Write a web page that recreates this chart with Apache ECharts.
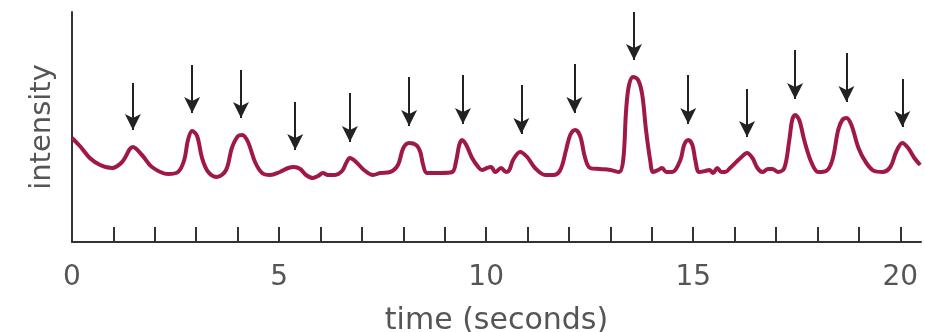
<!DOCTYPE html>
<html>
<head>
<meta charset="utf-8">
<script src="https://cdn.jsdelivr.net/npm/echarts@6/dist/echarts.min.js"></script>
<style>
  html, body { margin: 0; padding: 0; background: #fff; }
  #chart { width: 925px; height: 332px; }
</style>
</head>
<body>
<div id="chart"></div>
<script>
// time in seconds
var time = [
  0, 0.19, 0.43, 0.68, 0.97, 1.21, 1.47, 1.69, 1.93, 2.32,
  2.56, 2.71, 2.80, 2.90, 3.02, 3.14, 3.29, 3.50, 3.72, 3.86,
  4.01, 4.11, 4.25, 4.42, 4.59, 4.78, 5.02, 5.22, 5.36, 5.51,
  5.65, 5.82, 5.94, 6.06, 6.18, 6.35, 6.52, 6.62, 6.71, 6.86,
  7.05, 7.27, 7.44, 7.68, 7.87, 8.00, 8.14, 8.31, 8.41, 8.48,
  8.57, 8.89, 9.18, 9.28, 9.35, 9.42, 9.52, 9.66, 9.81, 9.90,
  10.02, 10.12, 10.22, 10.36, 10.48, 10.56, 10.65, 10.82, 10.99, 11.18,
  11.43, 11.62, 11.79, 11.93, 12.03, 12.15, 12.27, 12.39, 12.51, 12.75,
  13.00, 13.21, 13.31, 13.38, 13.45, 13.55, 13.67, 13.77, 13.86, 13.96,
  14.03, 14.15, 14.25, 14.35, 14.49, 14.69, 14.78, 14.88, 14.98, 15.05,
  15.14, 15.29, 15.39, 15.48, 15.58, 15.68, 15.77, 15.89, 16.14, 16.30,
  16.43, 16.55, 16.67, 16.81, 16.91, 17.05, 17.20, 17.32, 17.39, 17.46,
  17.56, 17.68, 17.85, 18.02, 18.21, 18.36, 18.50, 18.60, 18.70, 18.82,
  18.99, 19.18, 19.37, 19.57, 19.76, 19.90, 20.05, 20.19, 20.34, 20.48
];
// intensity (arbitrary units)
var intensity = [
  104, 96, 84, 77, 74, 80, 95, 87, 75, 68,
  70, 82, 102, 111, 106, 84, 70, 65, 72, 94,
  106, 107, 100, 80, 69, 67, 70, 74, 75, 73,
  67, 64, 66, 69, 67, 67, 71, 79, 84, 80,
  72, 67, 69, 70, 77, 94, 99, 97, 90, 77,
  69, 69, 70, 82, 97, 102, 97, 84, 75, 72,
  74, 75, 70, 74, 70, 72, 82, 90, 85, 74,
  67, 67, 72, 92, 107, 112, 106, 84, 74, 73,
  72, 70, 82, 132, 157, 165, 162, 147, 112, 82,
  70, 72, 74, 70, 70, 82, 97, 102, 97, 82,
  70, 71, 72, 69, 74, 70, 70, 74, 84, 89,
  84, 74, 70, 73, 73, 70, 74, 102, 122, 127,
  122, 102, 80, 70, 71, 82, 112, 122, 124, 117,
  94, 79, 71, 70, 75, 90, 99, 94, 84, 77
];
// arrows marking the peaks
var arrowTime = [1.47, 2.90, 4.08, 5.39, 6.71, 8.14, 9.44, 10.85, 12.13, 13.57, 14.88, 16.30, 17.46, 18.70, 20.05];
var arrowTop  = [159, 177, 172, 140, 149, 165, 167, 157, 178, 230, 167, 153, 192, 189, 163];
var arrowTip  = [112, 129, 124, 92, 100, 116, 118, 108, 129, 182, 118, 105, 143, 140, 115];

var tickValues = [0,1,2,3,4,5,6,7,8,9,10,11,12,13,14,15,16,17,18,19,20];
var labelValues = [0, 5, 10, 15, 20];

var chart = echarts.init(document.getElementById('chart'));
var font = "'DejaVu Sans', sans-serif";

var arrows = [];
for (var i = 0; i < arrowTime.length; i++) {
  arrows.push([{coord: [arrowTime[i], arrowTop[i]]}, {coord: [arrowTime[i], arrowTip[i]]}]);
}

var option = {
  animation: false,
  grid: {left: 72, right: 4, top: 12, bottom: 90, outerBoundsMode: 'none', containLabel: false},
  xAxis: {
    type: 'value',
    min: 0,
    max: 20.5,
    name: 'time (seconds)',
    nameLocation: 'middle',
    nameGap: 64,
    nameTextStyle: {fontFamily: font, fontSize: 30, color: '#555'},
    axisLine: {show: true, lineStyle: {color: '#333', width: 2}},
    axisTick: {show: true, inside: true, length: 15, customValues: tickValues,
      lineStyle: {color: '#333', width: 2}},
    axisLabel: {customValues: labelValues, fontFamily: font, fontSize: 28, color: '#555', margin: 22},
    splitLine: {show: false}
  },
  yAxis: {
    type: 'value',
    min: 0,
    max: 230,
    name: 'intensity',
    nameLocation: 'middle',
    nameGap: 15,
    nameTextStyle: {fontFamily: font, fontSize: 29, color: '#555'},
    axisLine: {show: true, lineStyle: {color: '#333', width: 2}},
    axisTick: {show: false},
    axisLabel: {show: false},
    splitLine: {show: false}
  },
  series: [{
    type: 'line',
    data: time.map(function (t, i) { return [t, intensity[i]]; }),
    smooth: 0.35,
    showSymbol: false,
    lineStyle: {color: '#a01848', width: 4},
    markLine: {
      silent: true,
      symbol: ['none', 'arrow'],
      symbolSize: [12, 16],
      lineStyle: {color: '#222', width: 2, type: 'solid'},
      label: {show: false},
      emphasis: {disabled: true},
      data: arrows
    }
  }]
};
chart.setOption(option);
</script>
</body>
</html>
